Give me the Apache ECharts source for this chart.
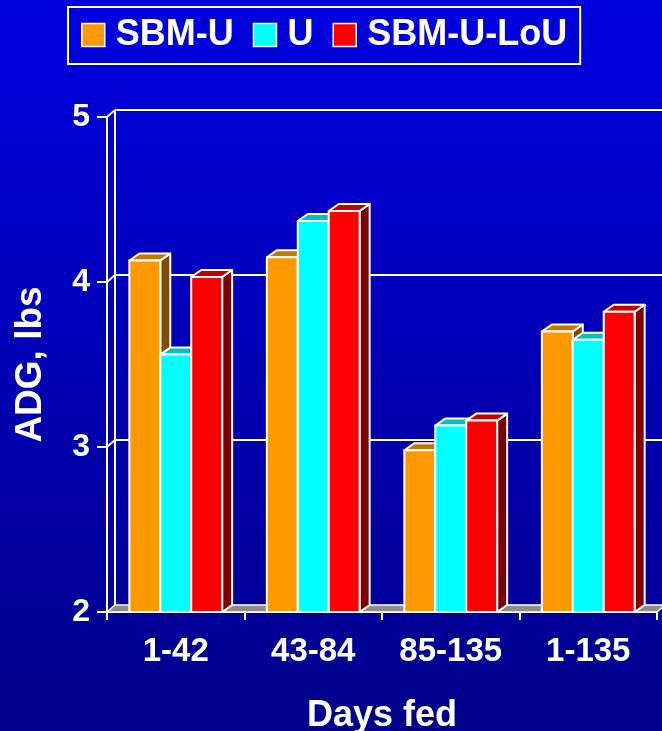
<!DOCTYPE html>
<html>
<head>
<meta charset="utf-8">
<style>
  html, body { margin: 0; padding: 0; }
  #main { width: 662px; height: 731px; }
</style>
<script src="https://cdn.jsdelivr.net/npm/echarts@6/dist/echarts.min.js"></script>
</head>
<body>
<div id="main"></div>
<script>
var categories = ['1-42', '43-84', '85-135', '1-135'];
var seriesNames = ['SBM-U', 'U', 'SBM-U-LoU'];
var sbmU = [4.13, 4.15, 2.98, 3.70];
var uOnly = [3.56, 4.37, 3.13, 3.65];
var sbmULoU = [4.03, 4.43, 3.16, 3.82];
var yTicks = [2, 3, 4, 5];

var yMin = 2, yMax = 5;
var FONT = '"Liberation Sans", Arial, sans-serif';

// face colours: front, top, side
var palette = [
  ['#FF9900', '#C07800', '#804C00'],
  ['#00FFFF', '#00C0C0', '#008080'],
  ['#FF0000', '#C00000', '#800000']
];

var myChart = echarts.init(document.getElementById('main'));

function wallItem(params, api) {
  var cs = params.coordSys;
  var v = api.value(0);
  var y = api.coord([0, v])[1];
  var x0 = cs.x, x1 = cs.x + cs.width;
  var dx = 8, dy = -7;
  var line = { stroke: '#fff', lineWidth: 2 };
  var kids = [];
  if (v === yMin) {
    kids.push({
      type: 'polygon',
      shape: { points: [[x0, y], [x1, y], [x1 + dx, y + dy], [x0 + dx, y + dy]] },
      style: { fill: '#8C8C8C', stroke: '#fff', lineWidth: 1.5 }
    });
  } else {
    kids.push({ type: 'line', shape: { x1: x0, y1: y, x2: x0 + dx, y2: y + dy }, style: line });
    kids.push({ type: 'line', shape: { x1: x0 + dx, y1: y + dy, x2: x1 + dx, y2: y + dy }, style: line });
  }
  if (v === yMax) {
    var yb = api.coord([0, yMin])[1];
    kids.push({ type: 'line', shape: { x1: x0 + dx, y1: y + dy, x2: x0 + dx, y2: yb + dy }, style: line });
  }
  return { type: 'group', children: kids };
}

function barRenderer(idx) {
  var c = palette[idx];
  return function (params, api) {
    var top = api.coord([api.value(0), api.value(1)]);
    var base = api.coord([api.value(0), yMin]);
    var bw = api.size([1, 0])[0] * 0.225;
    var xa = top[0] + (idx - 1.5) * bw;
    var xb = xa + bw;
    var dx = 10, dy = -7;
    var st = { stroke: '#fff', lineWidth: 2, lineJoin: 'round' };
    return {
      type: 'group',
      children: [
        { type: 'polygon', shape: { points: [[xb, top[1]], [xb + dx, top[1] + dy], [xb + dx, base[1] + dy], [xb, base[1]]] },
          style: Object.assign({ fill: c[2] }, st) },
        { type: 'polygon', shape: { points: [[xa, top[1]], [xa + dx, top[1] + dy], [xb + dx, top[1] + dy], [xb, top[1]]] },
          style: Object.assign({ fill: c[1] }, st) },
        { type: 'rect', shape: { x: xa, y: top[1], width: bw, height: base[1] - top[1] },
          style: Object.assign({ fill: c[0] }, st) }
      ]
    };
  };
}

function barSeries(name, values, idx) {
  return {
    name: name,
    type: 'custom',
    renderItem: barRenderer(idx),
    itemStyle: { color: palette[idx][0] },
    encode: { x: 0, y: 1 },
    data: values.map(function (v, i) { return [i, v]; }),
    z: 3
  };
}

var option = {
  backgroundColor: {
    type: 'linear', x: 0, y: 0, x2: 0, y2: 1,
    colorStops: [{ offset: 0, color: '#0000E0' }, { offset: 1, color: '#00008A' }]
  },
  textStyle: { fontFamily: FONT },
  legend: {
    data: seriesNames,
    left: 68,
    top: 7,
    padding: [10, 13, 11, 13],
    itemWidth: 23,
    itemHeight: 23,
    itemGap: 19,
    icon: 'rect',
    borderColor: '#fff',
    borderWidth: 2,
    itemStyle: { borderColor: '#fff', borderWidth: 1.5 },
    textStyle: { color: '#fff', fontSize: 36, fontWeight: 'bold', fontFamily: FONT, padding: [0, 0, 0, 6] }
  },
  grid: { left: 107, right: 5, top: 117, bottom: 119, outerBoundsMode: 'none' },
  xAxis: {
    type: 'category',
    data: categories,
    name: 'Days fed',
    nameLocation: 'middle',
    nameGap: 86,
    nameTextStyle: { color: '#fff', fontSize: 36, fontWeight: 'bold', fontFamily: FONT },
    axisLine: { show: true, lineStyle: { color: '#fff', width: 2 } },
    axisTick: { show: true, length: 8, lineStyle: { color: '#fff', width: 2 } },
    axisLabel: { color: '#fff', fontSize: 33, fontWeight: 'bold', fontFamily: FONT, margin: 23 }
  },
  yAxis: {
    type: 'value',
    min: yMin,
    max: yMax,
    interval: 1,
    name: 'ADG, lbs',
    nameLocation: 'middle',
    nameGap: 58,
    nameTextStyle: { color: '#fff', fontSize: 37, fontWeight: 'bold', fontFamily: FONT },
    axisLine: { show: true, lineStyle: { color: '#fff', width: 2 } },
    axisTick: { show: true, length: 10, lineStyle: { color: '#fff', width: 2 } },
    splitLine: { show: false },
    axisLabel: { color: '#fff', fontSize: 32, fontWeight: 'bold', fontFamily: FONT, margin: 17 }
  },
  series: [
    {
      name: 'wall',
      type: 'custom',
      renderItem: wallItem,
      encode: { y: 0 },
      data: yTicks.map(function (v) { return [v]; }),
      silent: true,
      z: 1
    },
    barSeries(seriesNames[0], sbmU, 0),
    barSeries(seriesNames[1], uOnly, 1),
    barSeries(seriesNames[2], sbmULoU, 2)
  ]
};

myChart.setOption(option);
</script>
</body>
</html>
